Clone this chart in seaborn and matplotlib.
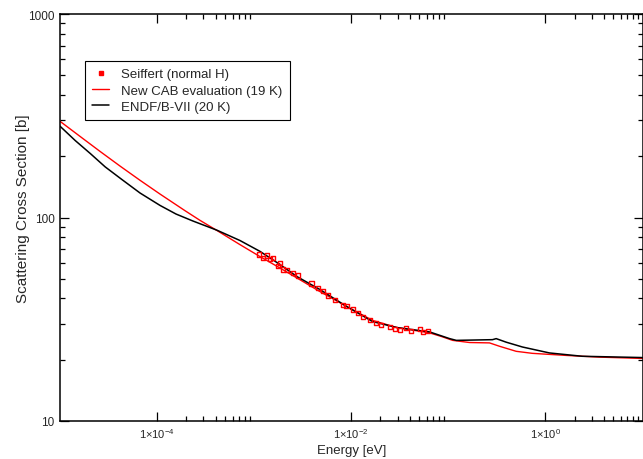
import numpy as np
import pandas as pd
import matplotlib
matplotlib.use("Agg")
import matplotlib.pyplot as plt
from matplotlib.lines import Line2D
from matplotlib.ticker import FixedLocator, FixedFormatter, NullFormatter
import seaborn as sns

# ---------------- data ----------------
cab_energy = [1e-5, 1.62e-5, 2.60e-5, 4.17e-5, 6.68e-5, 1.074e-4, 1.94e-4, 2.77e-4,
              4.14e-4, 7.13e-4, 1.146e-3, 1.84e-3, 2.95e-3, 4.74e-3, 9.0e-3,
              1.66e-2, 2.94e-2, 0.0641, 0.0853, 0.1107, 0.1656, 0.2656, 0.336,
              0.500, 0.735, 1.64, 3.59, 10.0]
cab_sigma = [297, 249.7, 210.8, 178.7, 152.3, 130.3, 108.0, 96.8,
             86.3, 73.6, 64.3, 56.5, 49.5, 43.3, 36.5,
             31.2, 28.8, 27.1, 26.0, 24.9, 24.3, 24.2, 23.3,
             22.0, 21.5, 21.0, 20.6, 20.3]

endf_energy = [1e-5, 1.436e-5, 2.05e-5, 2.92e-5, 4.34e-5, 6.68e-5, 1.074e-4, 1.567e-4,
               2.34e-4, 4.14e-4, 7.13e-4, 1.146e-3, 1.84e-3, 2.75e-3, 4.74e-3,
               9.0e-3, 1.66e-2, 2.94e-2, 0.0641, 0.103, 0.121, 0.186, 0.285,
               0.311, 0.394, 0.580, 1.10, 2.40, 10.0]
endf_sigma = [281, 238.8, 206.3, 177.3, 153.7, 131.9, 114.6, 104.0,
              96.1, 86.6, 77.1, 68.2, 58.8, 51.3, 44.3,
              36.5, 30.8, 28.8, 27.4, 25.4, 24.9, 25.0, 25.1,
              25.4, 24.4, 23.1, 21.6, 20.8, 20.5]

seiffert_energy = [1.127e-3, 1.239e-3, 1.343e-3, 1.452e-3, 1.571e-3, 1.768e-3, 1.84e-3,
                   1.99e-3, 2.16e-3, 2.53e-3, 2.84e-3, 3.90e-3, 4.56e-3, 5.13e-3,
                   5.77e-3, 6.76e-3, 8.24e-3, 8.93e-3, 1.045e-2, 1.175e-2, 1.32e-2,
                   1.55e-2, 1.81e-2, 2.04e-2, 2.49e-2, 2.80e-2, 3.15e-2, 3.70e-2,
                   4.16e-2, 5.06e-2, 5.48e-2, 6.17e-2]
seiffert_sigma = [65.8, 63.4, 65.0, 62.7, 63.4, 57.7, 59.8,
                  55.5, 55.1, 53.4, 51.9, 47.4, 45.2, 43.5,
                  41.4, 39.5, 37.3, 36.6, 35.3, 34.0, 32.5,
                  31.3, 30.4, 29.5, 29.0, 28.4, 27.9, 28.6,
                  27.6, 28.2, 27.3, 27.6]

series_labels = ["Seiffert (normal H)", "New CAB evaluation (19 K)", "ENDF/B-VII (20 K)"]

xtick_values = [1e-4, 1e-2, 1e0]
xtick_labels = ["1\u00d710$^{-4}$", "1\u00d710$^{-2}$", "1\u00d710$^{0}$"]
ytick_values = [10, 100, 1000]
ytick_labels = ["10", "100", "1000"]

# ---------------- style ----------------
sns.set_theme(style="white")
plt.rcParams["font.family"] = ["Liberation Sans", "DejaVu Sans"]
plt.rcParams["mathtext.fontset"] = "custom"
plt.rcParams["mathtext.rm"] = "Liberation Sans"
plt.rcParams["mathtext.it"] = "Liberation Sans:italic"
plt.rcParams["mathtext.bf"] = "Liberation Sans:bold"

fig = plt.figure(figsize=(6.43, 4.60), dpi=100)
ax = fig.add_axes([60 / 643, 1 - 422 / 460, 582.5 / 643, 407 / 460])

cab_df = pd.DataFrame({"E": cab_energy, "sigma": cab_sigma})
endf_df = pd.DataFrame({"E": endf_energy, "sigma": endf_sigma})
sei_df = pd.DataFrame({"E": seiffert_energy, "sigma": seiffert_sigma})

sns.lineplot(data=cab_df, x="E", y="sigma", ax=ax, color="#ff0000", lw=1.0,
             sort=False, estimator=None, legend=False)
sns.lineplot(data=endf_df, x="E", y="sigma", ax=ax, color="black", lw=1.1,
             sort=False, estimator=None, legend=False)
sns.scatterplot(data=sei_df, x="E", y="sigma", ax=ax, marker="s", s=9,
                facecolor="none", edgecolor="#ff0000", linewidth=1.0,
                legend=False, zorder=3)

ax.set_xscale("log")
ax.set_yscale("log")
ax.set_xlim(1e-5, 10)
ax.set_ylim(10, 1000)

ax.xaxis.set_major_locator(FixedLocator(xtick_values))
ax.xaxis.set_major_formatter(FixedFormatter(xtick_labels))
ax.xaxis.set_minor_locator(FixedLocator([k * 10.0 ** e for e in (-4, -2, 0) for k in range(2, 10)]))
ax.xaxis.set_minor_formatter(NullFormatter())
ax.yaxis.set_major_locator(FixedLocator(ytick_values))
ax.yaxis.set_major_formatter(FixedFormatter(ytick_labels))
ax.yaxis.set_minor_locator(FixedLocator([k * 10.0 ** e for e in (1, 2) for k in range(2, 10)]))
ax.yaxis.set_minor_formatter(NullFormatter())

ax.tick_params(which="both", direction="in", top=True, right=True, bottom=True, left=True,
               color="black", width=0.9)
ax.tick_params(which="major", length=6.5, pad=4)
ax.tick_params(axis="x", which="major", labelsize=8)
ax.tick_params(axis="y", which="major", labelsize=8.5)
ax.tick_params(which="minor", length=3.5)

for sp in ax.spines.values():
    sp.set_color("black")
    sp.set_linewidth(1.1)

ax.set_xlabel("Energy [eV]", fontsize=9.5)
ax.set_ylabel("Scattering Cross Section [b]", fontsize=11)
ax.xaxis.set_label_coords(0.5, -(445 - 422) / 407)
ax.xaxis.label.set_va("top")
ax.yaxis.set_label_coords(-0.052, (422 - 209) / 407)

handles = [
    Line2D([], [], ls="none", marker="s", markersize=2.5, color="#ff0000"),
    Line2D([], [], color="#ff0000", lw=1.0),
    Line2D([], [], color="black", lw=1.1),
]
leg = ax.legend(handles, series_labels, loc="upper left",
                bbox_to_anchor=((85 - 60) / 583, (422 - 62) / 407),
                borderaxespad=0, fontsize=9.5, frameon=True, fancybox=False,
                framealpha=1, edgecolor="black", handlelength=1.3,
                handletextpad=0.9, labelspacing=0.3, borderpad=0.55)
leg.get_frame().set_linewidth(0.8)

fig.savefig("out.png", dpi=100)
